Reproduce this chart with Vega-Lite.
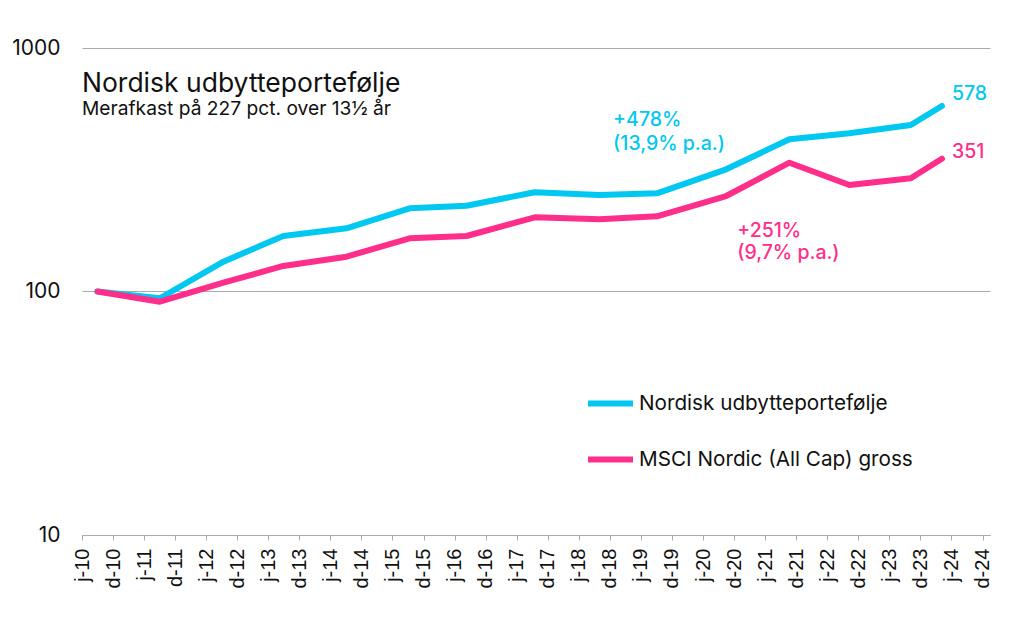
{
  "$schema": "https://vega.github.io/schema/vega-lite/v6.json",
  "width": 908,
  "height": 487,
  "autosize": {"type": "none"},
  "padding": {"left": 82, "top": 48, "right": 34, "bottom": 85},
  "background": "white",
  "config": {"view": {"stroke": null}, "font": "Inter"},
  "datasets": {
    "perf": [
      {"series": "Nordisk udbytteportefølje", "date": "2010-08-31", "value": 100},
      {"series": "Nordisk udbytteportefølje", "date": "2011-09-02", "value": 93.8},
      {"series": "Nordisk udbytteportefølje", "date": "2012-09-10", "value": 132.6},
      {"series": "Nordisk udbytteportefølje", "date": "2013-08-28", "value": 169},
      {"series": "Nordisk udbytteportefølje", "date": "2014-09-04", "value": 181.8},
      {"series": "Nordisk udbytteportefølje", "date": "2015-09-10", "value": 219.6},
      {"series": "Nordisk udbytteportefølje", "date": "2016-08-10", "value": 225.1},
      {"series": "Nordisk udbytteportefølje", "date": "2017-09-15", "value": 255.5},
      {"series": "Nordisk udbytteportefølje", "date": "2018-10-01", "value": 249},
      {"series": "Nordisk udbytteportefølje", "date": "2019-09-04", "value": 253},
      {"series": "Nordisk udbytteportefølje", "date": "2020-10-15", "value": 317.6},
      {"series": "Nordisk udbytteportefølje", "date": "2021-10-22", "value": 421.7},
      {"series": "Nordisk udbytteportefølje", "date": "2022-10-10", "value": 446.3},
      {"series": "Nordisk udbytteportefølje", "date": "2023-10-06", "value": 482.8},
      {"series": "Nordisk udbytteportefølje", "date": "2024-04-06", "value": 578},
      {"series": "MSCI Nordic (All Cap) gross", "date": "2010-08-31", "value": 100},
      {"series": "MSCI Nordic (All Cap) gross", "date": "2011-09-02", "value": 90.8},
      {"series": "MSCI Nordic (All Cap) gross", "date": "2012-09-10", "value": 108.7},
      {"series": "MSCI Nordic (All Cap) gross", "date": "2013-08-28", "value": 127.3},
      {"series": "MSCI Nordic (All Cap) gross", "date": "2014-09-04", "value": 139},
      {"series": "MSCI Nordic (All Cap) gross", "date": "2015-09-10", "value": 165.4},
      {"series": "MSCI Nordic (All Cap) gross", "date": "2016-08-10", "value": 169},
      {"series": "MSCI Nordic (All Cap) gross", "date": "2017-09-15", "value": 201.7},
      {"series": "MSCI Nordic (All Cap) gross", "date": "2018-10-01", "value": 197.9},
      {"series": "MSCI Nordic (All Cap) gross", "date": "2019-09-04", "value": 203.6},
      {"series": "MSCI Nordic (All Cap) gross", "date": "2020-10-15", "value": 246.7},
      {"series": "MSCI Nordic (All Cap) gross", "date": "2021-10-22", "value": 338},
      {"series": "MSCI Nordic (All Cap) gross", "date": "2022-10-10", "value": 273.8},
      {"series": "MSCI Nordic (All Cap) gross", "date": "2023-10-06", "value": 291.7},
      {"series": "MSCI Nordic (All Cap) gross", "date": "2024-04-06", "value": 351}
    ],
    "notes": [
      {"kind": "title", "label": "Nordisk udbytteportefølje", "date": "2010-06-01", "value": 660},
      {"kind": "subtitle", "label": "Merafkast på 227 pct. over 13½ år", "date": "2010-06-01", "value": 530.7},
      {"kind": "fund", "label": "+478%", "date": "2018-12-20", "value": 478},
      {"kind": "fund", "label": "(13,9% p.a.)", "date": "2018-12-20", "value": 381},
      {"kind": "fund", "label": "578", "date": "2024-06-04", "value": 611.5},
      {"kind": "index", "label": "+251%", "date": "2020-12-19", "value": 167.4},
      {"kind": "index", "label": "(9,7% p.a.)", "date": "2020-12-19", "value": 136},
      {"kind": "index", "label": "351", "date": "2024-06-04", "value": 352.4}
    ]
  },
  "encoding": {
    "x": {
      "field": "date",
      "type": "temporal",
      "scale": {"domain": [{"year": 2010, "month": 6, "date": 1}, {"year": 2025, "month": 1, "date": 14}]},
      "axis": {
        "title": null,
        "grid": false,
        "values": [
          {"year": 2010, "month": 6, "date": 1}, {"year": 2010, "month": 12, "date": 1},
          {"year": 2011, "month": 6, "date": 1}, {"year": 2011, "month": 12, "date": 1},
          {"year": 2012, "month": 6, "date": 1}, {"year": 2012, "month": 12, "date": 1},
          {"year": 2013, "month": 6, "date": 1}, {"year": 2013, "month": 12, "date": 1},
          {"year": 2014, "month": 6, "date": 1}, {"year": 2014, "month": 12, "date": 1},
          {"year": 2015, "month": 6, "date": 1}, {"year": 2015, "month": 12, "date": 1},
          {"year": 2016, "month": 6, "date": 1}, {"year": 2016, "month": 12, "date": 1},
          {"year": 2017, "month": 6, "date": 1}, {"year": 2017, "month": 12, "date": 1},
          {"year": 2018, "month": 6, "date": 1}, {"year": 2018, "month": 12, "date": 1},
          {"year": 2019, "month": 6, "date": 1}, {"year": 2019, "month": 12, "date": 1},
          {"year": 2020, "month": 6, "date": 1}, {"year": 2020, "month": 12, "date": 1},
          {"year": 2021, "month": 6, "date": 1}, {"year": 2021, "month": 12, "date": 1},
          {"year": 2022, "month": 6, "date": 1}, {"year": 2022, "month": 12, "date": 1},
          {"year": 2023, "month": 6, "date": 1}, {"year": 2023, "month": 12, "date": 1},
          {"year": 2024, "month": 6, "date": 1}, {"year": 2024, "month": 12, "date": 1}
        ],
        "labelExpr": "(month(datum.value) == 5 ? 'j-' : 'd-') + timeFormat(datum.value, '%y')",
        "labelAngle": 270,
        "labelFont": "Liberation Sans",
        "labelFontSize": 20,
        "labelColor": "#111111",
        "labelPadding": 8,
        "labelOverlap": false,
        "tickColor": "#aaaaaa",
        "tickSize": 5,
        "domainColor": "#aaaaaa"
      }
    },
    "y": {
      "field": "value",
      "type": "quantitative",
      "scale": {"type": "log", "domain": [10, 1000]},
      "axis": {
        "title": null,
        "values": [10, 100, 1000],
        "format": "d",
        "grid": true,
        "gridColor": "#aaaaaa",
        "domain": false,
        "ticks": false,
        "labelPadding": 22,
        "labelFont": "Inter",
        "labelFontSize": 21,
        "labelColor": "#111111"
      }
    }
  },
  "layer": [
    {
      "data": {"name": "perf"},
      "transform": [{"filter": "datum.series === 'Nordisk udbytteportefølje'"}],
      "mark": {"type": "line", "strokeWidth": 6, "strokeCap": "round", "strokeJoin": "round"},
      "encoding": {
        "color": {
          "field": "series",
          "type": "nominal",
          "scale": {"domain": ["Nordisk udbytteportefølje", "MSCI Nordic (All Cap) gross"], "range": ["#00C8F0", "#FF2E8A"]},
          "legend": {
            "orient": "none",
            "legendX": 503,
            "legendY": 330,
            "title": null,
            "padding": 0,
            "symbolType": "stroke",
            "symbolSize": 2025,
            "symbolStrokeWidth": 6,
            "labelFont": "Inter",
            "labelFontSize": 20.7,
            "labelColor": "#111111",
            "labelOffset": 3,
            "labelLimit": 400,
            "rowPadding": 18
          }
        }
      }
    },
    {
      "data": {"name": "perf"},
      "transform": [{"filter": "datum.series === 'MSCI Nordic (All Cap) gross'"}],
      "mark": {"type": "line", "strokeWidth": 6, "strokeCap": "round", "strokeJoin": "round"},
      "encoding": {"color": {"field": "series", "type": "nominal"}}
    },
    {
      "data": {"name": "notes"},
      "transform": [{"filter": "datum.kind === 'title'"}],
      "mark": {"type": "text", "align": "left", "baseline": "alphabetic", "font": "Inter", "fontSize": 26.5, "color": "#111111"},
      "encoding": {"text": {"field": "label"}}
    },
    {
      "data": {"name": "notes"},
      "transform": [{"filter": "datum.kind === 'subtitle'"}],
      "mark": {"type": "text", "align": "left", "baseline": "alphabetic", "font": "Inter", "fontSize": 19.2, "color": "#111111"},
      "encoding": {"text": {"field": "label"}}
    },
    {
      "data": {"name": "notes"},
      "transform": [{"filter": "datum.kind === 'fund'"}],
      "mark": {"type": "text", "align": "left", "baseline": "alphabetic", "font": "Inter", "fontSize": 19.5, "fontWeight": 500, "color": "#00C8F0"},
      "encoding": {"text": {"field": "label"}}
    },
    {
      "data": {"name": "notes"},
      "transform": [{"filter": "datum.kind === 'index'"}],
      "mark": {"type": "text", "align": "left", "baseline": "alphabetic", "font": "Inter", "fontSize": 19.5, "fontWeight": 500, "color": "#FF2E8A"},
      "encoding": {"text": {"field": "label"}}
    }
  ]
}
